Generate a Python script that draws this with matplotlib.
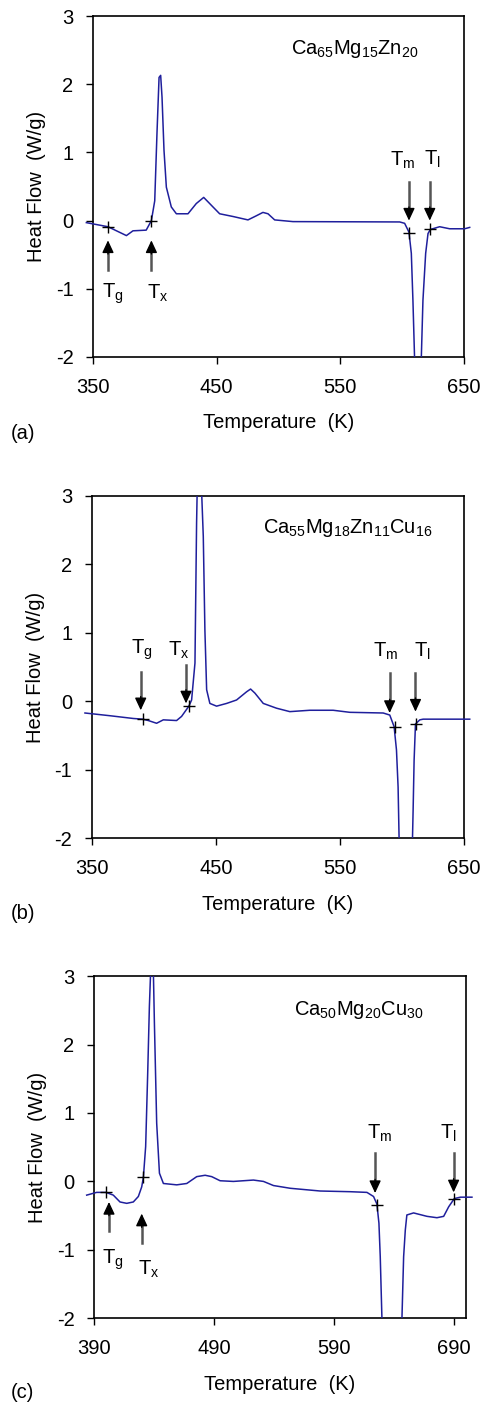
import numpy as np
import matplotlib
matplotlib.use('Agg')
import matplotlib.pyplot as plt
from matplotlib.patches import Rectangle

plt.rcParams['font.family'] = ['Liberation Sans', 'DejaVu Sans']
plt.rcParams['mathtext.fontset'] = 'custom'
plt.rcParams['mathtext.rm'] = 'Liberation Sans'
plt.rcParams['mathtext.it'] = 'Liberation Sans'
plt.rcParams['mathtext.bf'] = 'Liberation Sans'
plt.rcParams['axes.unicode_minus'] = False

# ---------------- data ----------------
# (a) Ca65Mg15Zn20
temp_a = [344.6, 362.1, 377.0, 382.3, 393.0, 397.2, 399.9, 401.7, 403.4, 404.7, 405.8,
          407.4, 409.3, 413.3, 417.4, 426.8, 433.5, 439.5, 447.0, 452.4, 463.2, 475.3,
          482.0, 487.4, 491.5, 496.9, 511.7, 598.0, 602.0, 605.5, 607.4, 608.7, 610.0,
          612.5, 615.5, 616.8, 619.0, 620.9, 622.8, 630.3, 638.4, 650.5, 654.6]
flow_a = [-0.03, -0.09, -0.22, -0.15, -0.14, 0.0, 0.29, 1.27, 2.10, 2.13, 1.81,
          1.03, 0.49, 0.20, 0.10, 0.10, 0.25, 0.34, 0.20, 0.10, 0.06, 0.01,
          0.07, 0.12, 0.10, 0.01, -0.015, -0.02, -0.04, -0.17, -0.48, -1.17, -2.0,
          -3.0, -2.0, -1.17, -0.48, -0.19, -0.13, -0.09, -0.12, -0.12, -0.10]
# (b) Ca55Mg18Zn11Cu16
temp_b = [344.6, 364.8, 383.5, 391.0, 395.6, 402.3, 407.7, 418.4, 422.4, 428.3, 430.5,
          433.2, 434.5, 435.0, 436.7, 438.5, 439.9, 441.2, 442.6, 445.2, 450.6, 458.7,
          466.7, 474.8, 478.0, 481.5, 488.2, 498.9, 509.6, 525.7, 544.5, 557.9, 584.8,
          590.1, 593.6, 595.5, 596.8, 597.6, 603.0, 608.4, 608.9, 609.7, 610.8, 614.3,
          617.0, 654.5]
flow_b = [-0.17, -0.21, -0.25, -0.26, -0.28, -0.32, -0.27, -0.28, -0.22, -0.07, 0.02,
          0.56, 2.60, 3.09, 4.0, 3.09, 2.41, 1.04, 0.17, -0.03, -0.07, -0.03,
          0.02, 0.14, 0.18, 0.12, -0.03, -0.10, -0.15, -0.13, -0.13, -0.16, -0.17,
          -0.20, -0.37, -0.71, -1.25, -2.0, -3.0, -2.0, -1.59, -0.86, -0.33, -0.27,
          -0.26, -0.26]
# (c) Ca50Mg20Cu30
temp_c = [383.9, 392.2, 400.0, 406.1, 411.7, 417.3, 422.8, 427.0, 429.8, 431.2, 433.1,
          434.8, 436.2, 437.3, 438.4, 439.5, 440.4, 442.3, 444.6, 447.9, 459.0, 467.4,
          475.7, 482.7, 488.2, 495.2, 506.3, 523.0, 531.4, 539.7, 553.7, 578.7, 603.7,
          617.7, 623.2, 626.0, 627.7, 628.8, 630.2, 638.5, 646.9, 648.3, 649.7, 651.0,
          656.6, 667.8, 676.1, 681.7, 685.9, 690.6, 695.7, 705.3]
flow_c = [-0.20, -0.16, -0.16, -0.20, -0.30, -0.32, -0.30, -0.22, -0.08, 0.06, 0.51,
          1.58, 2.55, 3.09, 4.0, 3.09, 2.31, 0.85, 0.12, -0.03, -0.05, -0.03,
          0.07, 0.09, 0.07, 0.01, 0.0, 0.02, 0.0, -0.06, -0.10, -0.14, -0.15,
          -0.16, -0.22, -0.33, -0.61, -1.10, -2.0, -3.0, -2.0, -1.10, -0.71, -0.49,
          -0.46, -0.51, -0.53, -0.51, -0.37, -0.25, -0.23, -0.23]

# characteristic temperatures: (x, y) of the "+" marks
marks_a = [(362.1, -0.09), (397.2, 0.0), (605.5, -0.18), (622.8, -0.13)]
marks_b = [(391.0, -0.26), (428.3, -0.07), (594.0, -0.37), (611.0, -0.33)]
marks_c = [(400.0, -0.16), (431.2, 0.06), (626.0, -0.34), (690.6, -0.25)]

sym = ['T$_{g}$', 'T$_{x}$', 'T$_{m}$', 'T$_{l}$']
# arrows: (x, y_tail, y_head), labels: (x, y)
arrows_a = [(362.1, -0.73, -0.29), (397.2, -0.73, -0.29), (605.5, 0.57, 0.0), (622.3, 0.57, 0.0)]
labels_a = [(366, -1.07), (402, -1.07), (600, 0.88), (624.5, 0.90)]
arrows_b = [(389.5, 0.43, -0.13), (426.0, 0.53, -0.03), (590.0, 0.41, -0.17), (610.8, 0.41, -0.15)]
labels_b = [(390, 0.75), (420, 0.75), (587, 0.73), (616, 0.73)]
arrows_c = [(402.5, -0.73, -0.30), (429.8, -0.90, -0.47), (624.5, 0.41, -0.17), (690.0, 0.41, -0.16)]
labels_c = [(406, -1.15), (436, -1.29), (628, 0.70), (686, 0.70)]

comps = ['Ca$_{65}$Mg$_{15}$Zn$_{20}$', 'Ca$_{55}$Mg$_{18}$Zn$_{11}$Cu$_{16}$',
         'Ca$_{50}$Mg$_{20}$Cu$_{30}$']
comp_pos = [(561.5, 2.52), (556.6, 2.53), (610.7, 2.50)]
xlims = [(350, 650), (350, 650), (390, 700)]
xticks = [[350, 450, 550, 650], [350, 450, 550, 650], [390, 490, 590, 690]]
tags = ['(a)', '(b)', '(c)']

# axes boxes in figure fractions [left, bottom, width, height]
boxes = [[0.1918, 0.7463, 0.7649, 0.2423],
         [0.1890, 0.4042, 0.7680, 0.2433],
         [0.1938, 0.0630, 0.7662, 0.2433]]
tag_y = [0.692, 0.351, 0.010]

fig = plt.figure(figsize=(4.85, 14.07), dpi=100)
line_col = '#1f1f9c'
fs = 14.5

panels = [(temp_a, flow_a, marks_a, arrows_a, labels_a),
          (temp_b, flow_b, marks_b, arrows_b, labels_b),
          (temp_c, flow_c, marks_c, arrows_c, labels_c)]

for i, (tx, fy, marks, arrs, labs) in enumerate(panels):
    ax = fig.add_axes(boxes[i])
    ln, = ax.plot(tx, fy, color=line_col, lw=1.1, zorder=3)
    # clip only top/bottom so trace can run a little past the side spines
    clip = Rectangle((-0.05, 0), 1.1, 1, transform=ax.transAxes, visible=False)
    ax.add_patch(clip)
    ln.set_clip_path(clip)

    for (mx, my) in marks:
        ax.plot(mx, my, marker='+', color='k', ms=9, mew=1.0, zorder=4)
    for (x, y0, y1) in arrs:
        # grey shaft, black head
        sgn = (y0 - y1) / abs(y0 - y1)
        ax.plot([x, x], [y0, y1 + 0.12 * sgn], color='#555555', lw=1.8)
        ax.annotate('', xy=(x, y1), xytext=(x, y1 + 0.2 * sgn),
                    arrowprops=dict(arrowstyle='-|>,head_length=0.75,head_width=0.35',
                                    fc='k', ec='k', lw=1.0, shrinkA=0, shrinkB=0))
    for s, (lx, ly) in zip(sym, labs):
        ax.text(lx, ly, s, fontsize=fs, ha='center', va='center')

    ax.text(comp_pos[i][0], comp_pos[i][1], comps[i], fontsize=fs, ha='center', va='center')

    ax.set_xlim(*xlims[i])
    ax.set_ylim(-2, 3)
    ax.set_xticks(xticks[i])
    ax.set_yticks([-2, -1, 0, 1, 2, 3])
    ax.tick_params(direction='out', length=5, width=1.0, labelsize=fs)
    ax.tick_params(axis='x', pad=10)
    ax.tick_params(axis='y', pad=9)
    for sp in ax.spines.values():
        sp.set_linewidth(1.2)
    ax.set_xlabel('Temperature  (K)', fontsize=fs, labelpad=12)
    ax.set_ylabel('Heat Flow  (W/g)', fontsize=fs, labelpad=7)
    fig.text(0.022, tag_y[i], tags[i], fontsize=fs, ha='left', va='center')

fig.savefig('out.png', dpi=100)
